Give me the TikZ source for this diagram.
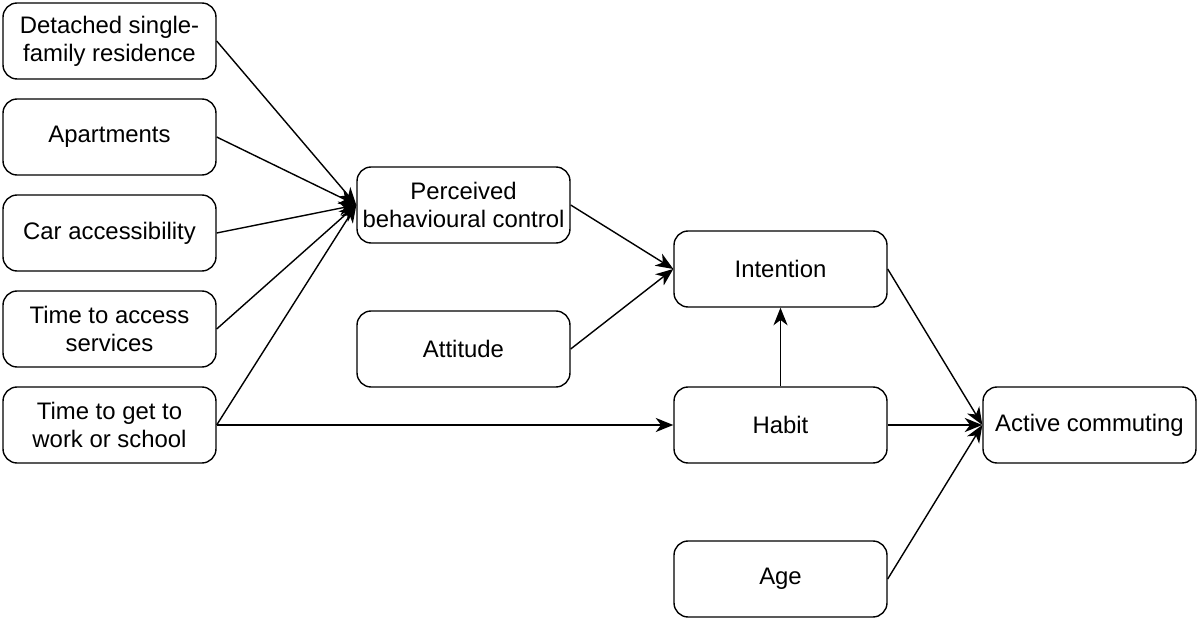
\documentclass[tikz,border=0pt]{standalone}
\usepackage{fontspec}
\setmainfont{Liberation Sans}
\usetikzlibrary{arrows.meta}

\begin{document}
\begin{tikzpicture}[x=0.02cm,y=-0.02cm]
    \tikzset{
        factor/.style={draw=black, thick, rounded corners=8pt, minimum width=4.26cm,
            minimum height=1.52cm, align=center, inner sep=2pt,
            font=\fontsize{13.6}{16}\selectfont},
        link/.style={draw=black, thick, -{Stealth[length=10pt,width=8pt,inset=3pt]}}
    }
    \useasboundingbox (0,0) rectangle (1200,621);
    % inputs
    \node [factor] (detached) at (109.5,41) {Detached single-\\family residence};
    \node [factor] (apart) at (109.5,137) {Apartments};
    \node [factor] (car) at (109.5,233) {Car accessibility};
    \node [factor] (services) at (109.5,329) {Time to access\\services};
    \node [factor] (worktime) at (109.5,425) {Time to get to\\work or school};
    % middle
    \node [factor] (pbc) at (463.5,205) {Perceived\\behavioural control};
    \node [factor] (attitude) at (463.5,349) {Attitude};
    \node [factor] (intention) at (780.5,269) {Intention};
    \node [factor] (habit) at (780.5,425) {Habit};
    \node [factor] (age) at (780.5,579) {Age};
    \node [factor] (active) at (1089.5,425) {Active commuting};
    % links
    \draw [link] (detached.east) -- (pbc.west);
    \draw [link] (apart.east) -- (pbc.west);
    \draw [link] (car.east) -- (pbc.west);
    \draw [link] (services.east) -- (pbc.west);
    \draw [link] (worktime.east) -- (pbc.west);
    \draw [link] (worktime.east) -- (habit.west);
    \draw [link] (pbc.east) -- (intention.west);
    \draw [link] (attitude.east) -- (intention.west);
    \draw [link] (habit.north) -- (intention.south);
    \draw [link] (intention.east) -- (active.west);
    \draw [link] (habit.east) -- (active.west);
    \draw [link] (age.east) -- (active.west);
\end{tikzpicture}
\end{document}
